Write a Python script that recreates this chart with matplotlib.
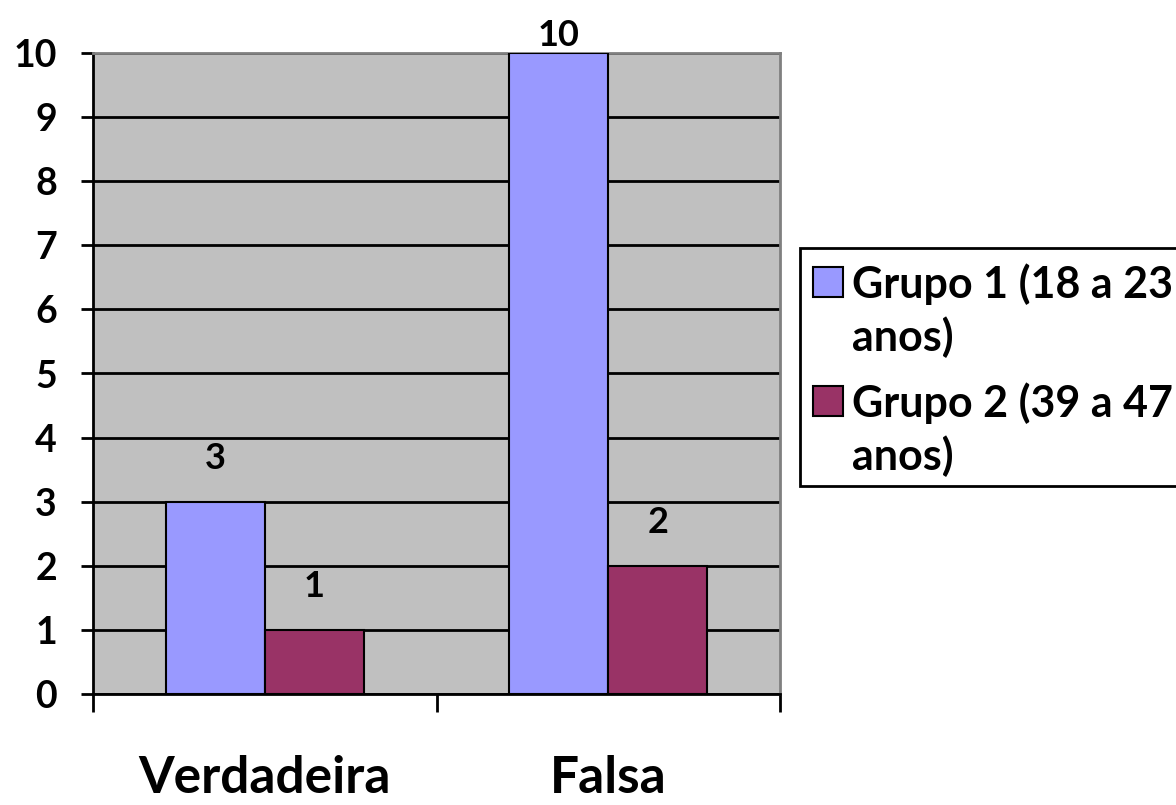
import matplotlib
matplotlib.use('Agg')
import matplotlib.pyplot as plt
import matplotlib.transforms as mtransforms
from matplotlib.patches import Rectangle
import numpy as np

# Respostas por categoria e grupo etário
categorias = ['Verdadeira', 'Falsa']
grupo1 = [3, 10]
grupo2 = [1, 2]
nomes_grupos = ['Grupo 1 (18 a 23\nanos)', 'Grupo 2 (39 a 47\nanos)']
cores = ['#9999FF', '#993366']

plt.rcParams['font.family'] = ['Lato', 'DejaVu Sans']
plt.rcParams['font.weight'] = 'bold'

W, H = 1176, 805
fig = plt.figure(figsize=(W / 100, H / 100), dpi=100)
ax = fig.add_axes([93 / W, 111 / H, 687 / W, 641 / H])
ax.set_facecolor('#C0C0C0')

x = np.arange(len(categorias))
largura = 0.288
b1 = ax.bar(x - largura / 2, grupo1, largura, color=cores[0], edgecolor='black',
            linewidth=1.5, zorder=3)
b2 = ax.bar(x + largura / 2, grupo2, largura, color=cores[1], edgecolor='black',
            linewidth=1.5, zorder=3)

ax.set_ylim(0, 10)
ax.set_xlim(-0.5, 1.5)

# Rótulos de valor acima das barras (o do topo fica logo acima da área)
for barras in (b1, b2):
    for b in barras:
        h = b.get_height()
        desloc = 18 if h >= ax.get_ylim()[1] else 43
        ax.annotate(str(int(h)), (b.get_x() + b.get_width() / 2, h),
                    xytext=(0, desloc), textcoords='offset pixels',
                    ha='center', va='center', fontsize=26, fontweight='bold',
                    annotation_clip=False)

ax.set_yticks(range(0, 11))
ax.yaxis.grid(True, color='black', linewidth=2, zorder=1)
ax.set_axisbelow(True)
ax.tick_params(axis='y', length=9, width=2, labelsize=27, pad=17)

# Marcas do eixo x nos limites entre categorias
ax.set_xticks([-0.5, 0.5, 1.5])
ax.set_xticklabels([])
ax.tick_params(axis='x', length=13, width=2)
trans_cat = mtransforms.blended_transform_factory(ax.transData, fig.transFigure)
for xi, nome in zip(x, categorias):
    ax.text(xi, 12 / H, nome, transform=trans_cat,
            ha='center', va='baseline', fontsize=37, fontweight='bold')

for lado in ('left', 'bottom'):
    ax.spines[lado].set_color('black')
    ax.spines[lado].set_linewidth(2)
for lado in ('top', 'right'):
    ax.spines[lado].set_color('#808080')
    ax.spines[lado].set_linewidth(2)

# Legenda desenhada à mão (o quadrado alinha com a primeira linha)
fig.patches.append(Rectangle((800 / W, 1 - 486 / H), 400 / W, 238 / H,
                             transform=fig.transFigure, facecolor='white',
                             edgecolor='black', linewidth=2))
topos = [267, 386]
for nome, cor, topo in zip(nomes_grupos, cores, topos):
    fig.patches.append(Rectangle((813 / W, 1 - (topo + 30) / H), 30 / W, 30 / H,
                                 transform=fig.transFigure, facecolor=cor,
                                 edgecolor='black', linewidth=1.5))
    for i, linha in enumerate(nome.split('\n')):
        fig.text(852 / W, 1 - (topo + 31 + 53 * i) / H, linha,
                 ha='left', va='baseline', fontsize=31, fontweight='bold')

fig.savefig('out.png', dpi=100)
